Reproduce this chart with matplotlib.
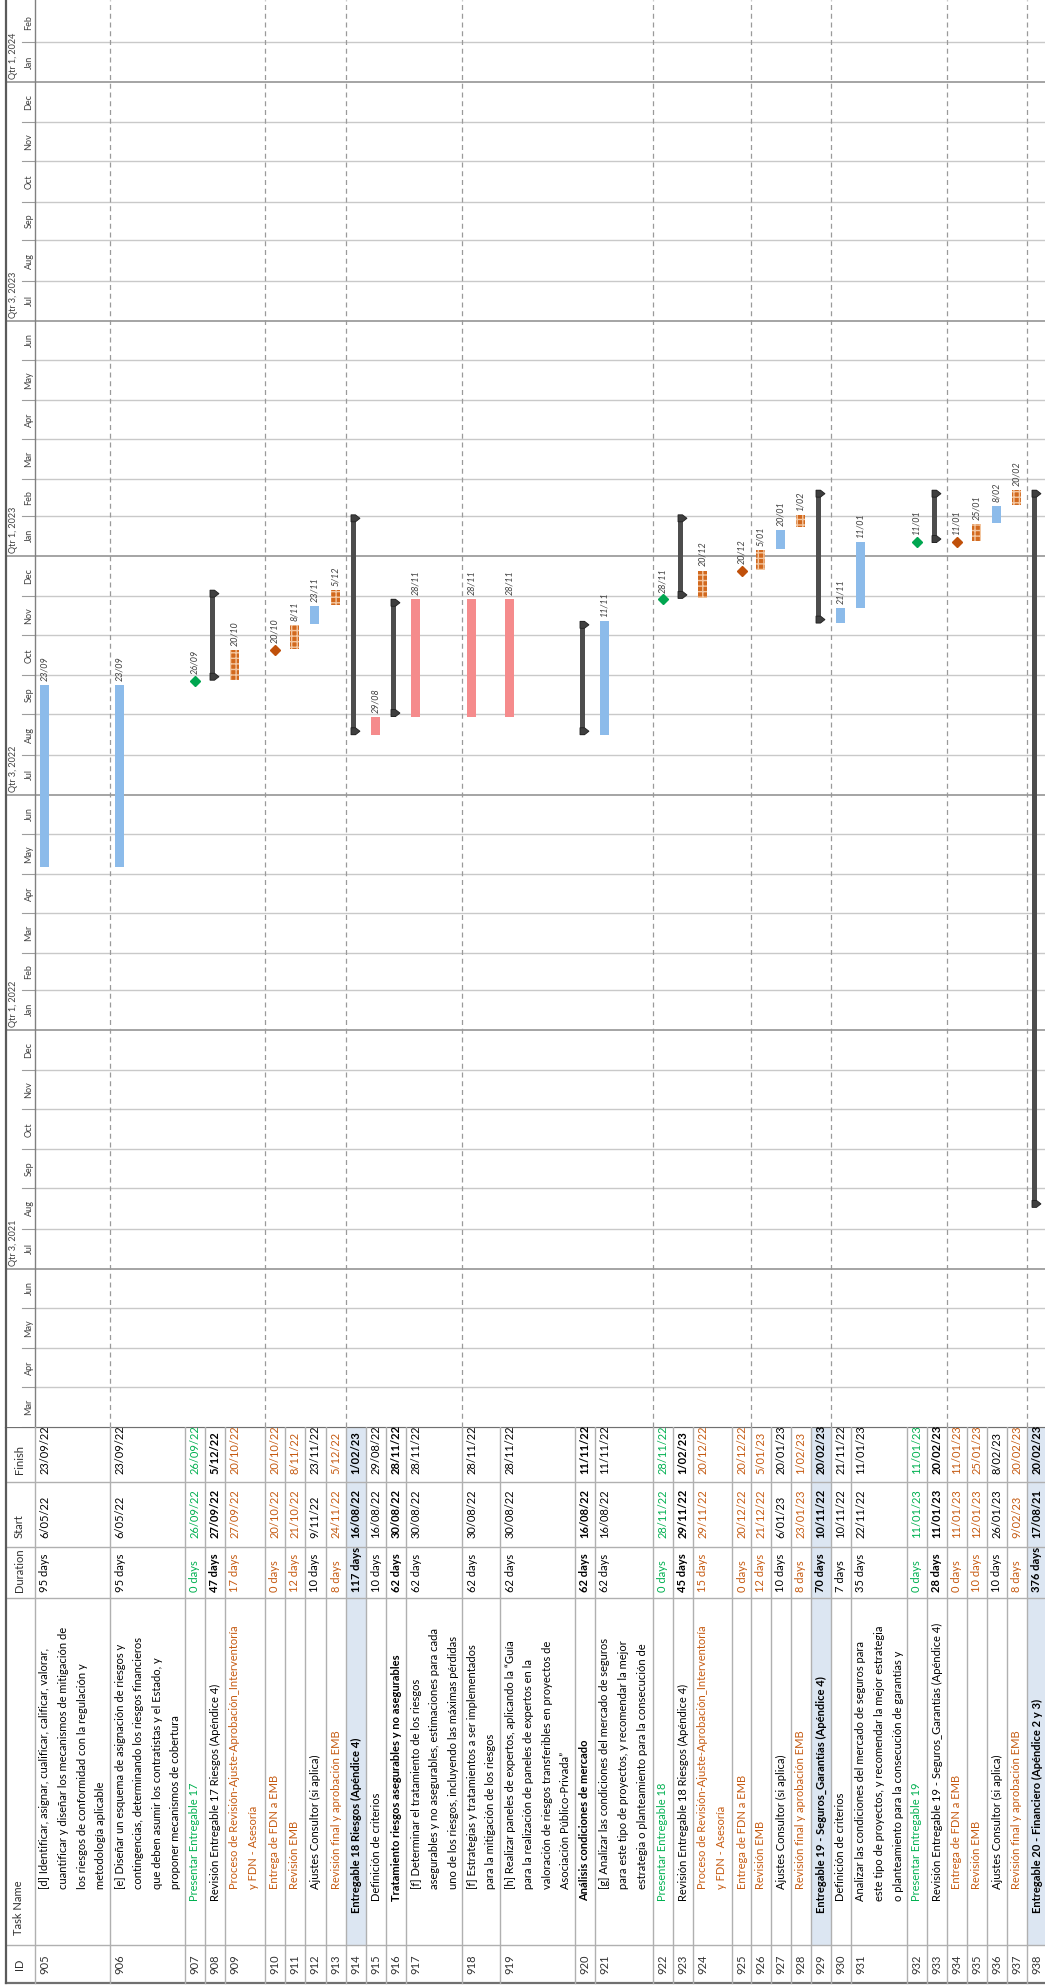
import matplotlib.pyplot as plt
import matplotlib.dates as mdates
from matplotlib.patches import Rectangle, Polygon
from matplotlib.transforms import Bbox, TransformedBbox
from datetime import datetime

plt.rcParams["font.family"] = ["Lato", "DejaVu Sans"]

# ---- data -----------------------------------------------------------------
IDS = list(range(905, 939))

TASK_NAMES = [
    "[d] Identificar, asignar, cualificar, calificar, valorar,\ncuantificar y diseñar los mecanismos de mitigación de\nlos riesgos de conformidad con la regulación y\nmetodología aplicable",
    "[e] Diseñar un esquema de asignación de riesgos y\ncontingencias, determinando los riesgos financieros\nque deben asumir los contratistas y el Estado, y\nproponer mecanismos de cobertura",
    "Presentar Entregable 17",
    "Revisión Entregable 17 Riesgos (Apéndice 4)",
    "Proceso de Revisión-Ajuste-Aprobación_Interventoría\ny FDN - Asesoría",
    "Entrega de FDN a EMB",
    "Revisión EMB",
    "Ajustes Consultor (si aplica)",
    "Revisión final y aprobación EMB",
    "Entregable 18 Riesgos (Apéndice 4)",
    "Definición de criterios",
    "Tratamiento riesgos asegurables y no asegurables",
    "[f] Determinar el tratamiento de los riesgos\nasegurables y no asegurables, estimaciones para cada\nuno de los riesgos, incluyendo las máximas pérdidas\nprobables (PML)",
    "[f] Estrategias y tratamientos a ser implementados\npara la mitigación de los riesgos",
    "[h] Realizar paneles de expertos, aplicando la “Guía\npara la realización de paneles de expertos en la\nvaloración de riesgos transferibles en proyectos de\nAsociación Público-Privada”",
    "Análisis condiciones de mercado",
    "[g] Analizar las condiciones del mercado de seguros\npara este tipo de proyectos, y recomendar la mejor\nestrategia o planteamiento para la consecución de\ngarantías y pólizas",
    "Presentar Entregable 18",
    "Revisión Entregable 18 Riesgos (Apéndice 4)",
    "Proceso de Revisión-Ajuste-Aprobación_Interventoría\ny FDN - Asesoría",
    "Entrega de FDN a EMB",
    "Revisión EMB",
    "Ajustes Consultor (si aplica)",
    "Revisión final y aprobación EMB",
    "Entregable 19 - Seguros_Garantías (Apéndice 4)",
    "Definición de criterios",
    "Analizar las condiciones del mercado de seguros para\neste tipo de proyectos, y recomendar la mejor estrategia\no planteamiento para la consecución de garantías y\npólizas",
    "Presentar Entregable 19",
    "Revisión Entregable 19 - Seguros_Garantías (Apéndice 4)",
    "Entrega de FDN a EMB",
    "Revisión EMB",
    "Ajustes Consultor (si aplica)",
    "Revisión final y aprobación EMB",
    "Entregable 20 - Financiero (Apéndice 2 y 3)",
]

DURATIONS = [
    "95 days", "95 days", "0 days", "47 days", "17 days", "0 days", "12 days",
    "10 days", "8 days", "117 days", "10 days", "62 days", "62 days", "62 days",
    "62 days", "62 days", "62 days", "0 days", "45 days", "15 days", "0 days",
    "12 days", "10 days", "8 days", "70 days", "7 days", "35 days", "0 days",
    "28 days", "0 days", "10 days", "10 days", "8 days", "376 days",
]

STARTS = [
    "6/05/22", "6/05/22", "26/09/22", "27/09/22", "27/09/22", "20/10/22",
    "21/10/22", "9/11/22", "24/11/22", "16/08/22", "16/08/22", "30/08/22",
    "30/08/22", "30/08/22", "30/08/22", "16/08/22", "16/08/22", "28/11/22",
    "29/11/22", "29/11/22", "20/12/22", "21/12/22", "6/01/23", "23/01/23",
    "10/11/22", "10/11/22", "22/11/22", "11/01/23", "11/01/23", "11/01/23",
    "12/01/23", "26/01/23", "9/02/23", "17/08/21",
]

FINISHES = [
    "23/09/22", "23/09/22", "26/09/22", "5/12/22", "20/10/22", "20/10/22",
    "8/11/22", "23/11/22", "5/12/22", "1/02/23", "29/08/22", "28/11/22",
    "28/11/22", "28/11/22", "28/11/22", "11/11/22", "11/11/22", "28/11/22",
    "1/02/23", "20/12/22", "20/12/22", "5/01/23", "20/01/23", "1/02/23",
    "20/02/23", "21/11/22", "11/01/23", "11/01/23", "20/02/23", "11/01/23",
    "25/01/23", "8/02/23", "20/02/23", "20/02/23",
]

# bar kind of every row
KINDS = [
    "task", "task", "ms_green", "summary", "review", "ms_orange", "review",
    "task", "review", "summary", "crit", "summary", "crit", "crit", "crit",
    "summary", "task", "ms_green", "summary", "review", "ms_orange", "review",
    "task", "review", "summary", "task", "task", "ms_green", "summary",
    "ms_orange", "review", "task", "review", "summary",
]

# text style of every row: n normal, g green, o orange, c bold columns,
# b bold, s bold + shaded summary
TEXT_STYLE = [
    "n", "n", "g", "c", "o", "o", "o", "n", "o", "s", "n", "b", "n", "n", "n",
    "b", "n", "g", "c", "o", "o", "o", "n", "o", "s", "n", "n", "g", "c", "o",
    "o", "n", "o", "s",
]

OUTLINE = [
    3, 3, 2, 2, 3, 3, 3, 3, 3, 1, 2, 2, 3, 3, 3, 2, 3, 2, 2, 3, 3, 3, 3, 3,
    1, 2, 2, 2, 2, 3, 3, 3, 3, 1,
]

MONTHS = ["Jan", "Feb", "Mar", "Apr", "May", "Jun",
          "Jul", "Aug", "Sep", "Oct", "Nov", "Dec"]

# ---- layout (pixels) --------------------------------------------------------
W, H = 1045, 1986
ROW0 = 35
ROW_PX = [75, 75, 20, 20, 40, 20, 20, 21, 20, 20, 20, 20, 56, 38, 75, 20, 58,
          20, 20, 39, 19, 20, 20, 20, 20, 20, 56, 20, 20, 20, 20, 20, 20, 20]
GANTT_H = 1427
COL_EDGES = [1427, 1482, 1547, 1598, 1945, 1983]  # Finish|Start|Duration|Task|ID
LINE_PX = 18.6
NAME_START = {1: 1913, 2: 1901, 3: 1889}

BLUE = "#8cbbea"
PINK = "#f58b8c"
ORANGE = "#d2691e"
GREEN_TXT = "#00b050"
ORANGE_TXT = "#c55a11"
GRID = "#c9c9c9"
LINE = "#b0b0b0"

TY0 = mdates.date2num(datetime(2021, 3, 1)) + 0.2
TY1 = mdates.date2num(datetime(2024, 3, 4)) + 0.2
PX_DAY = GANTT_H / (TY1 - TY0)


def d2n(s):
    return mdates.date2num(datetime.strptime(s, "%d/%m/%y"))


row_start = [ROW0]
for h in ROW_PX[:-1]:
    row_start.append(row_start[-1] + h)

fig = plt.figure(figsize=(W / 100, H / 100), dpi=100)
ax_g = fig.add_axes([0, 1 - GANTT_H / H, 1, GANTT_H / H])
ax_t = fig.add_axes([0, 0, 1, 1 - GANTT_H / H])
ax_g.set_xlim(0, W)
ax_g.set_ylim(TY0, TY1)
ax_t.set_xlim(0, W)
ax_t.set_ylim(H, GANTT_H)
for a in (ax_g, ax_t):
    a.axis("off")

# ---- timescale ------------------------------------------------------------
for yr in range(2021, 2025):
    for m in range(1, 13):
        n0 = mdates.date2num(datetime(yr, m, 1))
        if n0 < TY0 - 1 or n0 > TY1 - 10:
            continue
        n1 = mdates.date2num(datetime(yr + (m == 12), m % 12 + 1, 1))
        if m in (1, 7):
            ax_g.plot([6, W], [n0, n0], color="#9d9d9d", lw=1.3, zorder=1)
            ax_g.text(14, n0 + 2, f"Qtr {1 if m == 1 else 3}, {yr}",
                      rotation=90, ha="center", va="bottom", fontsize=6.5,
                      color="#404040")
        else:
            ax_g.plot([ROW0, W], [n0, n0], color=GRID, lw=1.0, zorder=1)
            ax_g.plot([22, ROW0], [n0, n0], color="#9d9d9d", lw=0.8)
        ax_g.text(29, (n0 + min(n1, TY1)) / 2, MONTHS[m - 1], rotation=90,
                  ha="center", va="center", fontsize=6.5, color="#404040")

ax_g.plot([ROW0, ROW0], [TY0, TY1], color="#808080", lw=1.0)
ax_g.plot([6, 6], [TY0, TY1], color="#5a5a5a", lw=1.6)

# dashed row-group lines every fourth row
for i in range(1, len(IDS), 4):
    ax_g.axvline(row_start[i], color="#9a9a9a", lw=0.9, ls=(0, (4, 3)),
                 zorder=1)

# ---- gantt bars -----------------------------------------------------------
for i, kind in enumerate(KINDS):
    xl = row_start[i] + 5
    s = d2n(STARTS[i]) + 8 / 24
    e = d2n(FINISHES[i]) + 17 / 24
    lbl = FINISHES[i][:-3]
    if kind == "summary":
        ax_g.bar(xl + 2.25, e - s, bottom=s, width=4.5, color="#4d4d4d",
                 zorder=3)
        c = 7 / PX_DAY
        for y0, sg in ((e, -1), (s, 1)):
            ax_g.add_patch(Polygon(
                [(xl, y0), (xl + 4.5, y0), (xl + 9, y0 + sg * c / 2),
                 (xl + 4.5, y0 + sg * c), (xl, y0 + sg * c)],
                closed=True, fc="#3f3f3f", ec="#202020", lw=0.6, zorder=4))
        continue
    if kind.startswith("ms"):
        y = d2n(STARTS[i]) + 0.5
        col = "#00a650" if kind == "ms_green" else "#c0500a"
        ax_g.plot(xl + 4.5, y, marker="D", ms=5.2, color=col, zorder=4)
        ax_g.annotate(lbl, (xl + 4.5, y), xytext=(0, 5),
                      textcoords="offset points", rotation=90, ha="center",
                      va="bottom", fontsize=6.5, style="italic",
                      color="#404040")
        continue
    if kind == "review":
        ax_g.bar(xl + 4.5, e - s, bottom=s, width=9, color=ORANGE,
                 edgecolor="#f3c6a0", hatch="+++", lw=0, zorder=3)
    else:
        ax_g.bar(xl + 4.5, e - s, bottom=s, width=9,
                 color=PINK if kind == "crit" else BLUE, zorder=3)
    ax_g.annotate(lbl, (xl + 4.5, e), xytext=(0, 3),
                  textcoords="offset points", rotation=90, ha="center",
                  va="bottom", fontsize=6.5, style="italic", color="#404040")

# ---- table -----------------------------------------------------------------
for i, st in enumerate(TEXT_STYLE):
    if st == "s":
        ax_t.add_patch(Rectangle((row_start[i], COL_EDGES[0]), ROW_PX[i],
                                 COL_EDGES[4] - COL_EDGES[0],
                                 color="#dce6f2", lw=0, zorder=0))

for y in COL_EDGES[1:5]:
    ax_t.plot([6, W], [y, y], color=LINE, lw=1.0)
ax_t.plot([6, W], [COL_EDGES[0], COL_EDGES[0]], color="#707070", lw=1.6)
ax_t.plot([6, W], [COL_EDGES[5], COL_EDGES[5]], color="#707070", lw=1.6)
ax_t.plot([6, 6], [GANTT_H, COL_EDGES[5]], color="#5a5a5a", lw=1.6)
for x in [ROW0] + row_start[1:]:
    ax_t.plot([x, x], [GANTT_H, COL_EDGES[5]], color=LINE, lw=1.0)

hdr = dict(rotation=90, ha="center", fontsize=8, color="#303030")
ax_t.text(19, 1474, "Finish", va="bottom", **hdr)
ax_t.text(19, 1538, "Start", va="bottom", **hdr)
ax_t.text(19, 1592, "Duration", va="bottom", **hdr)
ax_t.text(19, 1935, "Task Name", va="bottom", **hdr)
ax_t.text(19, 1964, "ID", va="center", **hdr)


def cell(i, y, txt, y_lo, y_hi, color, weight):
    box = TransformedBbox(
        Bbox.from_extents(row_start[i], y_lo, row_start[i] + ROW_PX[i] + 1,
                          y_hi), ax_t.transData)
    for k, line in enumerate(txt.split("\n")):
        t = ax_t.text(row_start[i] + 10 + k * LINE_PX, y, line, rotation=90,
                      ha="center", va="bottom", fontsize=8, color=color,
                      fontweight=weight)
        t.set_clip_box(box)
        t.set_clip_on(True)


for i, st in enumerate(TEXT_STYLE):
    color = {"g": GREEN_TXT, "o": ORANGE_TXT}.get(st, "black")
    wname = "bold" if st in ("b", "s") else "normal"
    wcols = "bold" if st in ("b", "s", "c") else "normal"
    ax_t.text(row_start[i] + 10, 1964, str(IDS[i]), rotation=90, ha="center",
              va="center", fontsize=8, color="#303030")
    cell(i, NAME_START[OUTLINE[i]], TASK_NAMES[i], COL_EDGES[3], COL_EDGES[4],
         color, wname)
    cell(i, 1592, DURATIONS[i], COL_EDGES[2], COL_EDGES[3], color, wcols)
    cell(i, 1538, STARTS[i], COL_EDGES[1], COL_EDGES[2], color, wcols)
    cell(i, 1474, FINISHES[i], COL_EDGES[0], COL_EDGES[1], color, wcols)

fig.savefig("out.png", dpi=100)
